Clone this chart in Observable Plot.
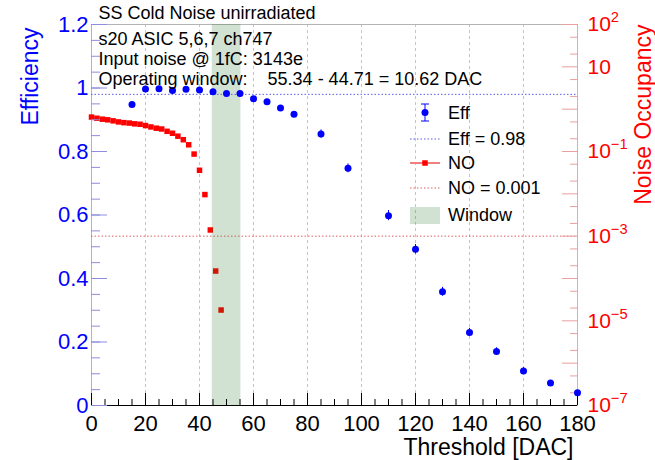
<!DOCTYPE html>
<html><head><meta charset="utf-8">
<script src="https://cdn.jsdelivr.net/npm/d3@7"></script>
<script src="https://cdn.jsdelivr.net/npm/@observablehq/plot@0.6"></script>
<style>
body{margin:0;background:#fff;}
#wrap{position:relative;width:655px;height:460px;font-family:"Liberation Sans",Arial,sans-serif;}
#wrap svg{position:absolute;left:0;top:0;}
</style></head><body><div id="wrap"></div>
<script>
// ---- data ----
const effThreshold = [15,20,25,30,35,40,45,50,55,60,65,70,75,85,95,110,120,130,140,150,160,170,180];
const effValue     = [0.948,0.997,0.998,0.992,0.996,0.994,0.988,0.983,0.983,0.966,0.957,0.937,0.917,0.855,0.747,0.598,0.492,0.358,0.230,0.170,0.109,0.071,0.040];
const effError     = [0.005,0.003,0.003,0.003,0.003,0.003,0.003,0.004,0.004,0.005,0.006,0.007,0.008,0.013,0.014,0.016,0.015,0.014,0.013,0.012,0.010,0.008,0.006];
const noThreshold  = [0,2,4,6,8,10,12,14,16,18,20,22,24,26,28,30,32,34,36,38,40,42,44,46,48];
const noValue      = [0.65,0.61,0.58,0.56,0.53,0.50,0.48,0.47,0.45,0.44,0.41,0.38,0.355,0.34,0.30,0.27,0.23,0.19,0.144,0.087,0.036,0.0096,0.0014,1.5e-4,1.8e-5];
const effLevel = 0.98;
const noLevel = 0.001;
const windowLo = 44.71, windowHi = 55.34;
const xMajor = [0,20,40,60,80,100,120,140,160,180];
const xMinor = d3.range(0,181,5);
const xGrid = [20,40,60,80,100,120,140,160];
const effMajor = [0,0.2,0.4,0.6,0.8,1,1.2];
const effTickLabels = ["0","0.2","0.4","0.6","0.8","1","1.2"];
const effMinor = d3.range(0,1.2001,0.05);
const noMajor = [1e-7,1e-6,1e-5,1e-4,1e-3,1e-2,1e-1,1,10,100];
const noMinor = [].concat(...[1e-7,1e-6,1e-5,1e-4,1e-3,1e-2,1e-1,1,10].map(d=>[2*d,5*d]));
const noLabelTicks = [100,10,1e-1,1e-3,1e-5,1e-7];
const noTickLabels = ["10^2","10","10^−1","10^−3","10^−5","10^−7"];
const titleText = "SS Cold Noise unirradiated";
const infoLines = ["s20 ASIC 5,6,7 ch747","Input noise @ 1fC: 3143e","Operating window:\u00a0\u00a0\u00a0 55.34 - 44.71 = 10.62 DAC"];
const legendLabels = ["Eff","Eff = 0.98","NO","NO = 0.001","Window"];

const effData = effThreshold.map((t,i)=>({t, v:effValue[i], e:effError[i]}));
const noData = noThreshold.map((t,i)=>({t, v:noValue[i]}));
const windowData = [{lo:windowLo, hi:windowHi}];

const FONT = "Liberation Sans, Arial, sans-serif";
const BLUE = "#0000ff", RED = "#ff0000";
const GREEN = "#1e6e1e", GREEN_OP = 0.2;
const blank = () => "";
const common = {
  width:655, height:460, marginLeft:91, marginRight:78, marginTop:24, marginBottom:55,
  style:{fontFamily:FONT, background:"transparent", overflow:"visible"}
};

const noPlot = Plot.plot({
  ...common,
  x:{domain:[0,180], axis:null},
  y:{type:"log", domain:[1e-7,1e2]},
  marks:[
    Plot.gridX(xGrid, {stroke:"#c4c4c4", strokeOpacity:1, strokeDasharray:"3,3"}),
    Plot.frame({stroke:"#b4b4b4"}),
    Plot.ruleY([noLevel], {stroke:"#e06060", strokeDasharray:"1.5,2"}),
    Plot.dot(noData, {x:"t", y:"v", symbol:"square", fill:RED, r:3.1}),
    Plot.rect(windowData, {x1:"lo", x2:"hi", fill:GREEN, fillOpacity:GREEN_OP}),
    Plot.ruleX([180], {stroke:"#e8a8a8"}),
    Plot.axisY(noMajor, {anchor:"right", tickSize:-16, stroke:"#e8a0a0", tickFormat:blank, label:null}),
    Plot.axisY(noMinor, {anchor:"right", tickSize:-8, stroke:"#e8a0a0", tickFormat:blank, label:null}),
    Plot.axisY(noLabelTicks, {anchor:"right", tickSize:0, tickPadding:10, fill:RED, fontSize:21, label:null,
      tickFormat:d=>noTickLabels[noLabelTicks.indexOf(d)]}),
    Plot.text(["Noise Occupancy"], {frameAnchor:"top-right", text:d=>d, rotate:-90, textAnchor:"end",
      lineAnchor:"middle", dx:66, dy:0, fill:RED, fontSize:23})
  ]
});

const effPlot = Plot.plot({
  ...common,
  x:{domain:[0,180]},
  y:{domain:[0,1.2]},
  marks:[
    Plot.ruleY([effLevel], {stroke:"#5a5ae6", strokeDasharray:"1.5,2"}),
    Plot.ruleX(effData, {x:"t", y1:d=>d.v-d.e, y2:d=>d.v+d.e, stroke:BLUE}),
    Plot.dot(effData, {x:"t", y:"v", fill:BLUE, r:3.5}),
    Plot.ruleY([0], {stroke:"#000"}),
    Plot.axisY(effMajor, {anchor:"left", tickSize:-16, stroke:"#8c8ce0", tickFormat:blank, label:null}),
    Plot.axisY(effMinor, {anchor:"left", tickSize:-9, stroke:"#8c8ce0", tickFormat:blank, label:null}),
    Plot.axisY(effMajor, {anchor:"left", tickSize:0, tickPadding:3, fill:BLUE, fontSize:22, label:null,
      tickFormat:d=>effTickLabels[effMajor.indexOf(d)]}),
    Plot.axisX(xMajor, {tickSize:-12, stroke:"#000", tickFormat:blank, label:null}),
    Plot.axisX(xMinor, {tickSize:-6, stroke:"#000", tickFormat:blank, label:null}),
    Plot.axisX(xMajor, {tickSize:0, tickPadding:10, fill:"#000", fontSize:22, label:null}),
    Plot.text(["Efficiency"], {frameAnchor:"top-left", text:d=>d, rotate:-90, textAnchor:"end",
      lineAnchor:"middle", dx:-61, dy:3, fill:BLUE, fontSize:23}),
    Plot.text(["Threshold [DAC]"], {frameAnchor:"bottom-right", text:d=>d, textAnchor:"end",
      lineAnchor:"middle", dx:-4, dy:42, fill:"#000", fontSize:23}),
    Plot.text([titleText], {frameAnchor:"top-left", text:d=>d, textAnchor:"start",
      lineAnchor:"middle", dx:7, dy:-11, fill:"#000", fontSize:18}),
    Plot.text([infoLines.join("\n")], {frameAnchor:"top-left", text:d=>d, textAnchor:"start",
      lineAnchor:"middle", lineHeight:1.111, dx:7, dy:34, fill:"#000", fontSize:18})
  ]
});

const wrap = document.getElementById("wrap");
wrap.appendChild(noPlot);
wrap.appendChild(effPlot);

// superscripts on log-axis labels
d3.select(noPlot).selectAll("text").each(function(){
  const s = this.textContent;
  if (s.includes("^")) {
    const [b, e] = s.split("^");
    const sel = d3.select(this);
    sel.text(b);
    sel.append("tspan").attr("dy","-0.6em").attr("font-size","70%").text(e);
  }
});

// legend overlay
const lg = d3.create("svg").attr("width",655).attr("height",460)
  .style("pointer-events","none").style("font-family",FONT);
const sx0 = 410, sx1 = 440, sxc = 425, tx = 448;
const rows = [113,139,163,188,215];
lg.append("line").attr("x1",sxc).attr("x2",sxc).attr("y1",104).attr("y2",121).attr("stroke",BLUE);
lg.append("line").attr("x1",sxc-4).attr("x2",sxc+4).attr("y1",104).attr("y2",104).attr("stroke",BLUE);
lg.append("line").attr("x1",sxc-4).attr("x2",sxc+4).attr("y1",121).attr("y2",121).attr("stroke",BLUE);
lg.append("circle").attr("cx",sxc).attr("cy",112.5).attr("r",3.5).attr("fill",BLUE);
lg.append("line").attr("x1",sx0).attr("x2",sx1).attr("y1",rows[1]).attr("y2",rows[1])
  .attr("stroke","#5a5ae6").attr("stroke-dasharray","1.5,2");
lg.append("line").attr("x1",sx0).attr("x2",sx1).attr("y1",rows[2]).attr("y2",rows[2])
  .attr("stroke","#f08080").attr("stroke-width",2);
lg.append("rect").attr("x",sxc-2.75).attr("y",rows[2]-2.75).attr("width",5.5).attr("height",5.5).attr("fill",RED);
lg.append("line").attr("x1",sx0).attr("x2",sx1).attr("y1",rows[3]).attr("y2",rows[3])
  .attr("stroke","#e06060").attr("stroke-dasharray","1.5,2");
lg.append("rect").attr("x",sx0).attr("y",207).attr("width",sx1-sx0).attr("height",17)
  .attr("fill",GREEN).attr("fill-opacity",GREEN_OP);
legendLabels.forEach((l,i)=>{
  lg.append("text").attr("x",tx).attr("y",rows[i]).attr("dy","0.35em")
    .attr("font-size",18).attr("fill","#000").text(l);
});
wrap.appendChild(lg.node());
</script></body></html>
